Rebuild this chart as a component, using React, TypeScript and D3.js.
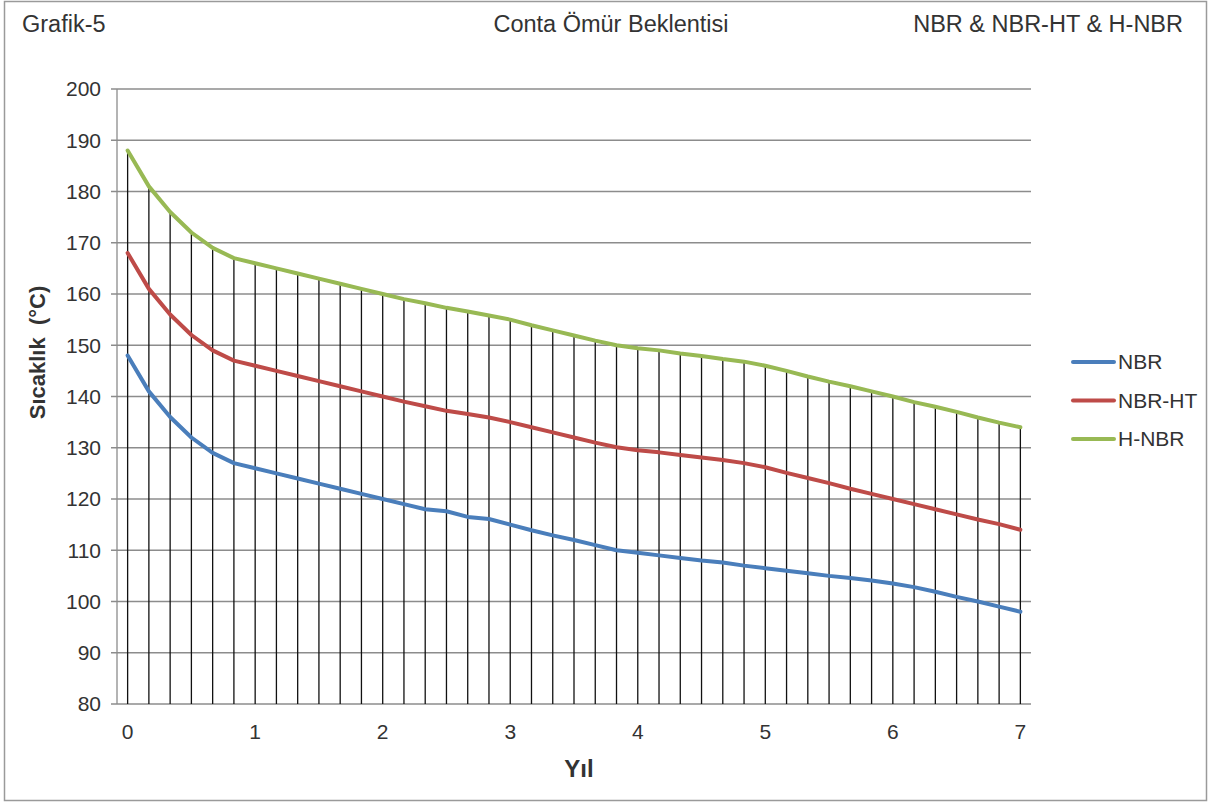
import React from "react";
import * as d3 from "d3";

// ---- data ----
const chartLabel = "Grafik-5";
const chartTitle = "Conta Ömür Beklentisi";
const chartSubtitle = "NBR & NBR-HT & H-NBR";
const yAxisTitle = "Sıcaklık\u00a0\u00a0(°C)";
const xAxisTitle = "Yıl";

const stepsPerYear = 6;
const xTickLabels = ["0", "1", "2", "3", "4", "5", "6", "7"];
const yTicks = [80, 90, 100, 110, 120, 130, 140, 150, 160, 170, 180, 190, 200];

const seriesNames = ["NBR", "NBR-HT", "H-NBR"];
const seriesColors = ["#4a7ebb", "#be4b48", "#98b954"];

const nbr = [148, 141, 136, 132, 129, 127, 126, 125, 124, 123, 122, 121, 120, 119, 118, 117.6, 116.5, 116.1, 115, 113.9, 112.9, 112, 111, 110, 109.5, 109, 108.5, 108, 107.6, 107, 106.5, 106, 105.5, 105, 104.6, 104.1, 103.5, 102.8, 101.9, 100.9, 100, 99, 98];
const nbrHt = [168, 161, 156, 152, 149, 147, 146, 145, 144, 143, 142, 141, 140, 139, 138.1, 137.2, 136.6, 135.9, 135, 134, 133, 132, 131, 130.1, 129.5, 129.1, 128.6, 128.1, 127.6, 127, 126.2, 125.1, 124.1, 123.1, 122, 121, 120, 119, 118, 117, 116, 115.1, 114];
const hNbr = [188, 181, 176, 172, 169, 167, 166, 165, 164, 163, 162, 161, 160, 159, 158.2, 157.3, 156.6, 155.8, 155, 153.9, 152.9, 151.9, 150.9, 150, 149.4, 149, 148.4, 147.9, 147.3, 146.8, 146, 145, 143.9, 142.9, 142, 141, 140, 138.9, 138, 137, 135.9, 134.9, 134];

const seriesValues = [nbr, nbrHt, hNbr];

export default function App() {
  const W = 1212;
  const H = 805;
  const left = 117;
  const right = 1031;
  const top = 89;
  const bottom = 704;
  const font = "'Liberation Sans', Arial, Helvetica, sans-serif";
  const textColor = "#333333";

  const n = hNbr.length;
  const idx = d3.range(n);
  const x = d3.scaleBand<number>().domain(idx).range([left, right]).padding(0);
  const cx = (i: number) => (x(i) as number) + x.bandwidth() / 2;
  const y = d3.scaleLinear().domain([80, 200]).range([bottom, top]);

  const line = d3
    .line<number>()
    .x((_, i) => cx(i))
    .y((v) => y(v));

  return (
    <div style={{ position: "fixed", left: 0, top: 0 }}>
      <svg width={W} height={H} style={{ display: "block", background: "#fff" }}>
        <rect x={4.5} y={1.5} width={1202} height={799} fill="#fff" stroke="#9a9a9a" strokeWidth={1.5} />

        {/* header texts */}
        <text x={22} y={32} fontFamily={font} fontSize={23.5} fill={textColor}>
          {chartLabel}
        </text>
        <text x={611} y={32} fontFamily={font} fontSize={23.5} fill={textColor} textAnchor="middle">
          {chartTitle}
        </text>
        <text x={1183} y={32} fontFamily={font} fontSize={23.5} fill={textColor} textAnchor="end">
          {chartSubtitle}
        </text>

        {/* gridlines */}
        {yTicks.map((t) => (
          <g key={t}>
            <line x1={left - 6} x2={right} y1={y(t)} y2={y(t)} stroke="#8c8c8c" strokeWidth={1.3} />
            <text
              x={101}
              y={y(t)}
              dy="0.35em"
              textAnchor="end"
              fontFamily={font}
              fontSize={21}
              fill={textColor}
            >
              {t}
            </text>
          </g>
        ))}
        <line x1={left} x2={left} y1={top} y2={bottom} stroke="#8c8c8c" strokeWidth={1.3} />

        {/* drop lines */}
        {idx.map((i) => {
          const maxV = d3.max(seriesValues, (s) => s[i]) as number;
          return (
            <line
              key={i}
              x1={cx(i)}
              x2={cx(i)}
              y1={y(maxV)}
              y2={y(80)}
              stroke="#111"
              strokeWidth={1.3}
            />
          );
        })}

        {/* series lines */}
        {seriesValues.map((vals, s) => (
          <path
            key={s}
            d={line(vals) || ""}
            fill="none"
            stroke={seriesColors[s]}
            strokeWidth={4}
            strokeLinejoin="round"
            strokeLinecap="round"
          />
        ))}

        {/* x tick labels */}
        {xTickLabels.map((lab, k) => (
          <text
            key={lab}
            x={cx(k * stepsPerYear)}
            y={739}
            textAnchor="middle"
            fontFamily={font}
            fontSize={21}
            fill={textColor}
          >
            {lab}
          </text>
        ))}

        {/* axis titles */}
        <text
          x={579}
          y={777}
          textAnchor="middle"
          fontFamily={font}
          fontSize={24}
          fontWeight="bold"
          fill={textColor}
        >
          {xAxisTitle}
        </text>
        <text
          transform={`translate(45,${(top + bottom) / 2 - 44}) rotate(-90)`}
          textAnchor="middle"
          fontFamily={font}
          fontSize={22}
          fontWeight="bold"
          fill={textColor}
        >
          {yAxisTitle}
        </text>

        {/* legend */}
        {seriesNames.map((name, s) => {
          const ly = 362 + s * 38.5;
          return (
            <g key={name}>
              <line x1={1073} x2={1114} y1={ly} y2={ly} stroke={seriesColors[s]} strokeWidth={4} strokeLinecap="round" />
              <text x={1118} y={ly} dy="0.35em" fontFamily={font} fontSize={21} fill={textColor}>
                {name}
              </text>
            </g>
          );
        })}
      </svg>
    </div>
  );
}
